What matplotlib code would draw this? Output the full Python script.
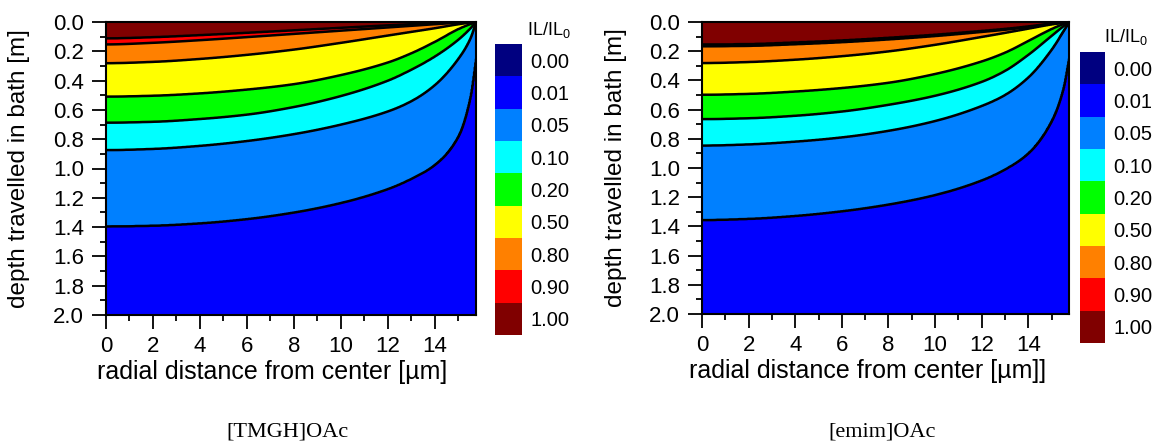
"""
Perfil de IL/IL0 en la fibra en función de la profundidad recorrida en el baño.
Dos paneles: [TMGH]OAc y [emim]OAc.
"""
import numpy as np
import matplotlib
matplotlib.use('Agg')
import matplotlib.pyplot as plt
from matplotlib.colors import ListedColormap

plt.rcParams['font.family'] = ['Liberation Sans', 'DejaVu Sans']

# Niveles de la leyenda y sus colores (0.00 arriba)
niveles = [0.00, 0.01, 0.05, 0.10, 0.20, 0.50, 0.80, 0.90, 1.00]
colores = ['#000080', '#0000ff', '#0080ff', '#00ffff', '#00ff00',
           '#ffff00', '#ff8000', '#ff0000', '#800000']

# Radio de la fibra [um] y posiciones radiales donde se leyeron las isolíneas
r_max = 15.75
r_muestras = [0, 2, 4, 6, 8, 10, 12, 13, 14, 15, 15.5, 15.75]

# Profundidad [m] de cada isolínea, [TMGH]OAc
tmgh_090 = [0.112, 0.104, 0.090, 0.074, 0.057, 0.040, 0.023, 0.015, 0.008, 0.002, 0.0005, 0.0]
tmgh_080 = [0.153, 0.142, 0.124, 0.103, 0.081, 0.059, 0.037, 0.026, 0.015, 0.005, 0.001, 0.0]
tmgh_050 = [0.281, 0.272, 0.252, 0.224, 0.188, 0.142, 0.092, 0.067, 0.042, 0.015, 0.004, 0.0]
tmgh_020 = [0.509, 0.503, 0.487, 0.461, 0.424, 0.362, 0.276, 0.213, 0.135, 0.048, 0.014, 0.0]
tmgh_010 = [0.687, 0.681, 0.662, 0.632, 0.580, 0.505, 0.400, 0.325, 0.235, 0.120, 0.045, 0.0]
tmgh_005 = [0.874, 0.866, 0.845, 0.812, 0.765, 0.700, 0.610, 0.540, 0.430, 0.250, 0.115, 0.0]
tmgh_001 = [1.395, 1.390, 1.374, 1.345, 1.300, 1.235, 1.140, 1.070, 0.975, 0.780, 0.520, 0.250]

# Profundidad [m] de cada isolínea, [emim]OAc
emim_090 = [0.155, 0.152, 0.141, 0.127, 0.109, 0.088, 0.062, 0.048, 0.031, 0.011, 0.003, 0.0]
emim_080 = [0.166, 0.163, 0.152, 0.138, 0.119, 0.096, 0.068, 0.053, 0.035, 0.013, 0.004, 0.0]
emim_050 = [0.281, 0.274, 0.258, 0.234, 0.201, 0.156, 0.102, 0.074, 0.045, 0.016, 0.005, 0.0]
emim_020 = [0.498, 0.492, 0.476, 0.452, 0.416, 0.356, 0.270, 0.210, 0.130, 0.048, 0.014, 0.0]
emim_010 = [0.665, 0.659, 0.642, 0.613, 0.567, 0.505, 0.410, 0.335, 0.225, 0.095, 0.030, 0.0]
emim_005 = [0.846, 0.838, 0.819, 0.790, 0.745, 0.678, 0.575, 0.500, 0.380, 0.190, 0.065, 0.0]
emim_001 = [1.356, 1.348, 1.328, 1.296, 1.250, 1.185, 1.085, 1.010, 0.900, 0.680, 0.460, 0.250]

curvas_tmgh = [tmgh_090, tmgh_080, tmgh_050, tmgh_020, tmgh_010, tmgh_005, tmgh_001]
curvas_emim = [emim_090, emim_080, emim_050, emim_020, emim_010, emim_005, emim_001]
valores_curvas = [0.90, 0.80, 0.50, 0.20, 0.10, 0.05, 0.01]

etiqueta_y = 'depth travelled in bath [m]'
etiquetas_x = ['radial distance from center [\u00b5m]', 'radial distance from center [\u00b5m]]']
titulos = ['[TMGH]OAc', '[emim]OAc']


def pchip(xp, yp, x):
    """Interpolación cúbica monótona (Fritsch-Carlson), pendiente nula en r=0."""
    xp = np.asarray(xp, float)
    yp = np.asarray(yp, float)
    h = np.diff(xp)
    delta = np.diff(yp) / h
    m = np.zeros_like(yp)
    for k in range(1, len(xp) - 1):
        if delta[k - 1] * delta[k] > 0:
            w1 = 2 * h[k] + h[k - 1]
            w2 = h[k] + 2 * h[k - 1]
            m[k] = (w1 + w2) / (w1 / delta[k - 1] + w2 / delta[k])
    m[-1] = delta[-1]
    k = np.clip(np.searchsorted(xp, x) - 1, 0, len(xp) - 2)
    t = (x - xp[k]) / h[k]
    h00 = 2 * t**3 - 3 * t**2 + 1
    h10 = t**3 - 2 * t**2 + t
    h01 = -2 * t**3 + 3 * t**2
    h11 = t**3 - t**2
    return h00 * yp[k] + h10 * h[k] * m[k] + h01 * yp[k + 1] + h11 * h[k] * m[k + 1]


def construir_campo(curvas, nx=600, nz=900):
    """Reconstruye IL/IL0 sobre una malla a partir de las isolíneas leídas."""
    xs = np.linspace(0, r_max, nx)
    zs = np.linspace(0, 2.0, nz)
    campo = np.zeros((nz, nx))
    vals = [1.0] + valores_curvas + [0.005]
    prof = np.array([pchip(r_muestras, c, xs) for c in curvas])
    for j in range(nx):
        d = [0.0] + list(prof[:, j]) + [2.0]
        for i in range(1, len(d)):
            d[i] = max(d[i], d[i - 1] + 1e-4)
        campo[:, j] = np.interp(zs, d, vals)
    return xs, zs, campo


def dibujar_panel(fig, pos, curvas, xlabel):
    ax = fig.add_axes(pos)
    xs, zs, campo = construir_campo(curvas)
    ax.contourf(xs, zs, campo, levels=[0.0, 0.01, 0.05, 0.1, 0.2, 0.5, 0.8, 0.9, 1.01],
                colors=colores[1:])
    ax.contour(xs, zs, campo, levels=valores_curvas[::-1], colors='black', linewidths=1.8)

    ax.set_xlim(0, r_max)
    ax.set_ylim(2.0, 0.0)
    ax.set_xticks(np.arange(0, 15, 2))
    ax.set_xticks(np.arange(1, 16, 2), minor=True)
    ax.set_yticks(np.arange(0, 2.01, 0.2))
    ax.set_yticks(np.arange(0.1, 2.0, 0.2), minor=True)
    ax.set_yticklabels([f'{v:.1f}' for v in np.arange(0, 2.01, 0.2)])
    ax.tick_params(which='major', direction='out', length=10, width=1.3, labelsize=16)
    ax.tick_params(which='minor', direction='out', length=4.5, width=1.3)
    ax.tick_params(axis='x', which='major', pad=5)
    ax.tick_params(axis='y', which='major', pad=6)
    for s in ax.spines.values():
        s.set_linewidth(1.5)

    ax.set_xlabel(xlabel, fontsize=18)
    ax.xaxis.set_label_coords(0.45, -0.155)
    ax.set_ylabel(etiqueta_y, fontsize=17.5)
    ax.yaxis.set_label_coords(-0.205, 0.5)
    return ax


def dibujar_leyenda(fig, pos):
    cax = fig.add_axes(pos)
    cax.imshow(np.arange(len(niveles))[:, None], cmap=ListedColormap(colores),
               aspect='auto', interpolation='nearest')
    cax.set_xticks([])
    cax.set_yticks(range(len(niveles)))
    cax.set_yticklabels([f'{v:.2f}' for v in niveles])
    cax.yaxis.tick_right()
    cax.tick_params(axis='y', length=0, pad=6, labelsize=14.5)
    for s in cax.spines.values():
        s.set_visible(False)
    return cax


W, H = 1170, 446
fig = plt.figure(figsize=(W / 100, H / 100), dpi=100)

# Panel izquierdo
dibujar_panel(fig, [106 / W, 1 - 315 / H, 370 / W, 293 / H], curvas_tmgh, etiquetas_x[0])
dibujar_leyenda(fig, [495 / W, 1 - 335 / H, 27 / W, 291 / H])
fig.text(549 / W, 1 - 30 / H, 'IL/IL$_\\mathregular{0}$', fontsize=13, ha='center', va='center')
fig.text(287 / W, 1 - 432 / H, titulos[0], fontsize=16, ha='center', va='center',
         family='Liberation Serif')

# Panel derecho
dibujar_panel(fig, [702 / W, 1 - 314 / H, 367 / W, 292 / H], curvas_emim, etiquetas_x[1])
dibujar_leyenda(fig, [1080 / W, 1 - 343 / H, 25 / W, 291 / H])
fig.text(1126 / W, 1 - 37 / H, 'IL/IL$_\\mathregular{0}$', fontsize=13, ha='center', va='center')
fig.text(882 / W, 1 - 432 / H, titulos[1], fontsize=16, ha='center', va='center',
         family='Liberation Serif')

fig.savefig('out.png', dpi=100)
